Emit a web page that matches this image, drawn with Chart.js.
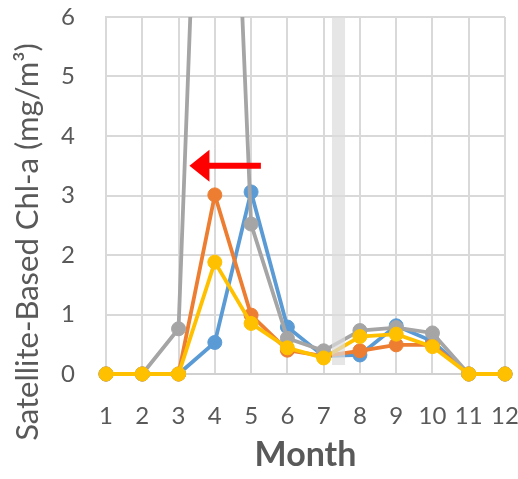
<!DOCTYPE html>
<html>
<head>
<meta charset="utf-8">
<script src="https://cdn.jsdelivr.net/npm/chart.js@4/dist/chart.umd.min.js"></script>
<style>
  body { margin: 0; background: #fff; }
  #chart { display: block; }
</style>
</head>
<body>
<canvas id="chart" width="518" height="479"></canvas>
<script>
// months on the x axis
var months = [1, 2, 3, 4, 5, 6, 7, 8, 9, 10, 11, 12];
// series values (mg/m3)
var blueVals   = [0, 0, 0, 0.53, 3.06, 0.79, 0.30, 0.32, 0.81, 0.55, 0, 0];
var orangeVals = [0, 0, 0, 3.01, 0.99, 0.40, 0.30, 0.39, 0.49, 0.49, 0, 0];
var grayVals   = [0, 0, 0.76, 17.0, 2.52, 0.60, 0.39, 0.73, 0.78, 0.69, 0, 0];
var yellowVals = [0, 0, 0, 1.88, 0.85, 0.44, 0.27, 0.63, 0.67, 0.46, 0, 0];
var yTicks = [0, 1, 2, 3, 4, 5, 6];

// shaded band and arrow, in data units
var band = { x0: 7.23, x1: 7.59, y0: 0.15, y1: 6 };
var arrow = { from: 5.27, to: 3.30, y: 3.5 };

var txtColor = '#595959';
var font = 'Lato, "Open Sans", sans-serif';

function pts(vals) {
    var out = [];
    for (var i = 0; i < months.length; i++) {
        out.push({ x: months[i], y: vals[i] });
    }
    return out;
}

function series(vals, color) {
    return {
        data: pts(vals),
        borderColor: color,
        backgroundColor: color,
        borderWidth: 3.8,
        pointRadius: 7,
        pointBorderWidth: 1,
        pointBorderColor: color,
        pointBackgroundColor: color,
        tension: 0,
        clip: { left: 12, right: 12, top: 0, bottom: 12 }
    };
}

// band + arrow drawn over the lines, y title drawn by hand
var extras = {
    id: 'extras',
    afterDatasetsDraw: function (chart) {
        var ctx = chart.ctx;
        var xs = chart.scales.x, ys = chart.scales.y;
        ctx.save();
        ctx.fillStyle = 'rgba(220,220,220,0.7)';
        var bx0 = xs.getPixelForValue(band.x0), bx1 = xs.getPixelForValue(band.x1);
        var by0 = ys.getPixelForValue(band.y0), by1 = ys.getPixelForValue(band.y1);
        ctx.fillRect(bx0, by1, bx1 - bx0, by0 - by1);

        var ax0 = xs.getPixelForValue(arrow.from), ax1 = xs.getPixelForValue(arrow.to);
        var ay = ys.getPixelForValue(arrow.y);
        ctx.fillStyle = '#ff0000';
        ctx.fillRect(ax1 + 18, ay - 3, ax0 - ax1 - 18, 6);
        ctx.beginPath();
        ctx.moveTo(ax1, ay);
        ctx.lineTo(ax1 + 20, ay - 16);
        ctx.lineTo(ax1 + 20, ay + 16);
        ctx.closePath();
        ctx.fill();
        ctx.restore();
    },
    afterDraw: function (chart) {
        var ctx = chart.ctx;
        ctx.save();
        ctx.translate(28, 242);
        ctx.rotate(-Math.PI / 2);
        ctx.fillStyle = txtColor;
        ctx.font = '31px ' + font;
        ctx.textAlign = 'center';
        ctx.textBaseline = 'middle';
        ctx.fillText('Satellite-Based Chl-a (mg/m\u00b3)', 0, 0);
        ctx.restore();
    }
};

new Chart(document.getElementById('chart'), {
    type: 'line',
    data: {
        datasets: [
            series(yellowVals, '#ffc000'),
            series(grayVals, '#a5a5a5'),
            series(orangeVals, '#ed7d31'),
            series(blueVals, '#5b9bd5')
        ]
    },
    options: {
        responsive: false,
        animation: false,
        layout: { padding: { top: 17, right: 13, left: 0, bottom: 0 } },
        plugins: { legend: { display: false }, tooltip: { enabled: false } },
        scales: {
            x: {
                type: 'linear',
                min: 1,
                max: 12,
                afterFit: function (s) { s.height = 105; s.paddingLeft = 0; s.paddingRight = 0; },
                afterBuildTicks: function (s) { s.ticks = months.map(function (m) { return { value: m }; }); },
                grid: { color: '#d9d9d9', lineWidth: 2, drawTicks: false },
                border: { color: '#d0d0d0', width: 2 },
                ticks: { color: txtColor, font: { family: font, size: 24 }, padding: 28, maxRotation: 0, autoSkip: false },
                title: {
                    display: true,
                    text: 'Month',
                    color: txtColor,
                    font: { family: font, size: 34, weight: 'bold' },
                    padding: { top: 0, bottom: 4 }
                }
            },
            y: {
                min: 0,
                max: 6,
                afterFit: function (s) { s.width = 106; s.paddingTop = 0; s.paddingBottom = 0; },
                afterBuildTicks: function (s) { s.ticks = yTicks.map(function (v) { return { value: v }; }); },
                grid: { color: '#d9d9d9', lineWidth: 2, drawTicks: false },
                border: { color: '#d9d9d9', width: 2 },
                ticks: { color: txtColor, font: { family: font, size: 24 }, padding: 31 }
            }
        }
    },
    plugins: [extras]
});
</script>
</body>
</html>
